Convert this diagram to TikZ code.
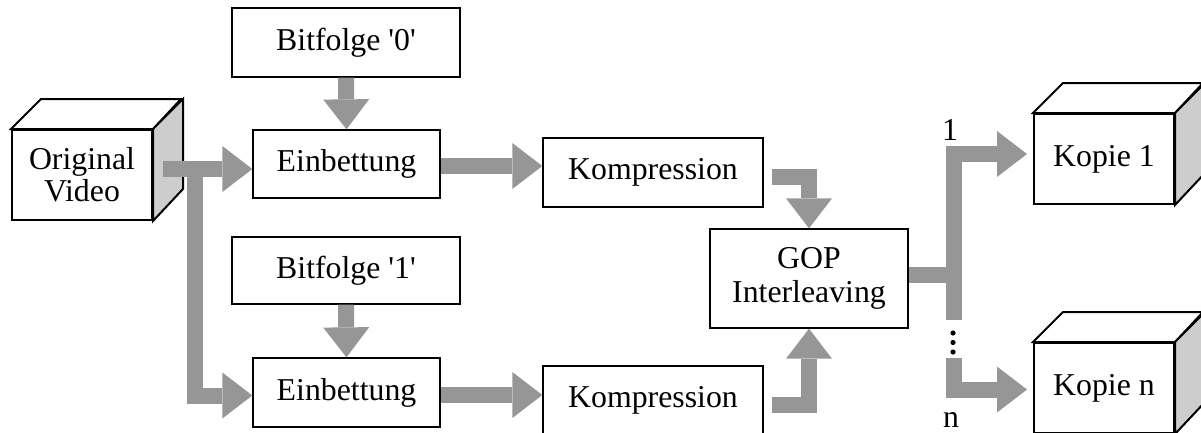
\documentclass[tikz,border=0pt]{standalone}
\usepackage{fontspec}
\setmainfont{Liberation Serif}
\usetikzlibrary{arrows.meta}
\definecolor{arrgray}{RGB}{150,150,150}
\definecolor{sidegray}{RGB}{205,205,205}
\begin{document}
\begin{tikzpicture}[x=1pt,y=-1pt,
  font=\fontsize{31.8}{34}\selectfont,
  box/.style={draw,line width=1.3pt,fill=white,inner sep=0pt,align=center},
  cube/.style={draw,line width=2pt,fill=white,inner sep=0pt,align=center,minimum width=140pt,minimum height=90pt},
  arr/.style={draw=arrgray,line width=16pt,line join=miter,-{Triangle[width=46pt,length=30pt,line width=0pt]}},
  bar/.style={draw=arrgray,line width=16pt,line join=miter}]
\useasboundingbox (0,0) rectangle (1201,432);

% cubes
\node[cube] (ov) at (82,175) {Original\\[-2pt]Video};
\draw[line width=2pt,line join=miter,fill=white] (ov.north west) -- ++(30,-30) -- ++(140,0) -- (ov.north east) -- cycle;
\draw[line width=2pt,line join=miter,fill=sidegray] (ov.north east) -- ++(30,-30) -- ++(0,90) -- (ov.south east) -- cycle;

\node[cube] (kop1) at (1104,159) {Kopie 1};
\draw[line width=2pt,line join=miter,fill=white] (kop1.north west) -- ++(30,-30) -- ++(140,0) -- (kop1.north east) -- cycle;
\draw[line width=2pt,line join=miter,fill=sidegray] (kop1.north east) -- ++(30,-30) -- ++(0,90) -- (kop1.south east) -- cycle;

\node[cube] (kopn) at (1104,388) {Kopie n};
\draw[line width=2pt,line join=miter,fill=white] (kopn.north west) -- ++(30,-30) -- ++(140,0) -- (kopn.north east) -- cycle;
\draw[line width=2pt,line join=miter,fill=sidegray] (kopn.north east) -- ++(30,-30) -- ++(0,90) -- (kopn.south east) -- cycle;

% boxes
\node[box,minimum width=228pt,minimum height=69pt] (b0) at (346,42.5) {Bitfolge \textquotesingle0\textquotesingle};
\node[box,minimum width=187pt,minimum height=68pt] (e1) at (346.5,164) {Einbettung};
\node[box,minimum width=220pt,minimum height=69pt] (k1) at (653,172.5) {Kompression};
\node[box,minimum width=228pt,minimum height=67pt] (b1) at (346,270.5) {Bitfolge \textquotesingle1\textquotesingle};
\node[box,minimum width=187pt,minimum height=69pt] (e2) at (346.5,392.5) {Einbettung};
\node[box,minimum width=220pt,minimum height=69pt] (k2) at (653,400.5) {Kompression};
\node[box,minimum width=198pt,minimum height=99pt] (gop) at (809,278.5) {GOP\\Interleaving};

% arrows
\draw[arr] (b0.south) -- (e1.north);
\draw[arr] (b1.south) -- (e2.north);

\coordinate (s0) at (163,169);
\draw[arr] (s0) -- (s0 -| e1.west);
\coordinate (s1) at (194.5,161);
\coordinate (t2) at ([yshift=-3pt]e2.west);
\draw[arr] (s1) |- (t2);

\coordinate (a1) at ([yshift=-2pt]e1.east);
\draw[arr] (a1) -- (a1 -| k1.west);
\coordinate (a2) at ([yshift=-2.5pt]e2.east);
\draw[arr] (a2) -- (a2 -| k2.west);

\coordinate (g1) at (772,176.5);
\draw[arr] (g1) -| (gop.north);
\coordinate (g2) at (772,404.5);
\draw[arr] (g2) -| (gop.south);

\coordinate (go) at ([yshift=4pt]gop.east);
\draw[bar] (go) -- ++(53,0);
\coordinate (f1) at (953.5,320);
\coordinate (f2) at (953.5,358);
\coordinate (t3) at ([xshift=-6pt,yshift=5pt]kop1.west);
\coordinate (t4) at ([xshift=-6pt,yshift=-1.5pt]kopn.west);
\draw[arr] (f1) |- (t3);
\draw[arr] (f2) |- (t4);

\fill (953,333) circle (2.6);
\fill (953,342.5) circle (2.6);
\fill (953,352) circle (2.6);

\node[anchor=base,inner sep=0pt] (l1) at (950,140) {1};
\node[anchor=base,inner sep=0pt] (ln) at (951,427) {n};
\end{tikzpicture}
\end{document}
